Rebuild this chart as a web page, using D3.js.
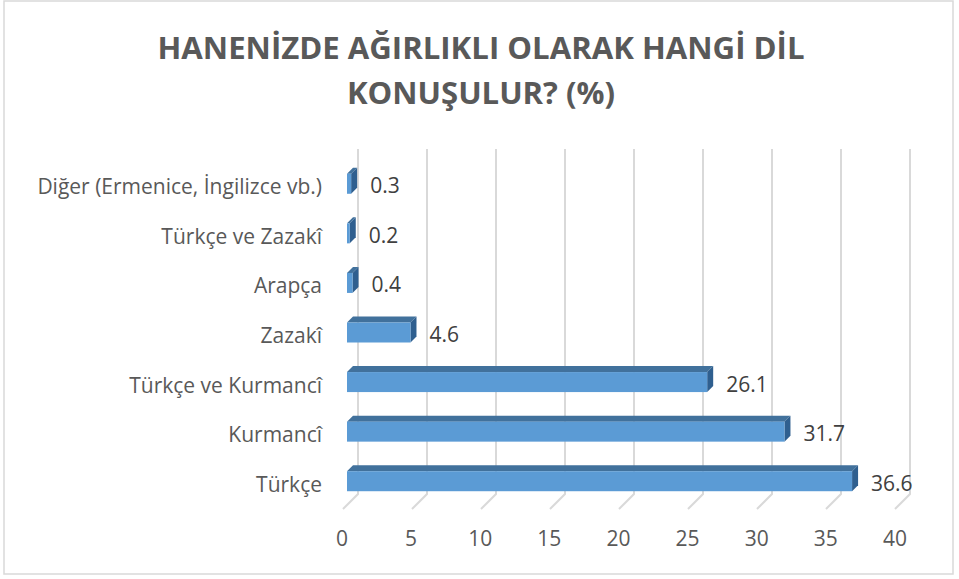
<!DOCTYPE html>
<html><head><meta charset="utf-8">
<script src="https://cdn.jsdelivr.net/npm/d3@7"></script>
<style>html,body{margin:0;padding:0;background:#fff;}svg{display:block;}</style>
</head><body>
<svg id="c" width="959" height="579"></svg>
<script>
const titleLines = ["HANENİZDE AĞIRLIKLI OLARAK HANGİ DİL", "KONUŞULUR? (%)"];
const categories = ["Diğer (Ermenice, İngilizce vb.)", "Türkçe ve Zazakî", "Arapça", "Zazakî", "Türkçe ve Kurmancî", "Kurmancî", "Türkçe"];
const values = [0.3, 0.2, 0.4, 4.6, 26.1, 31.7, 36.6];
const ticks = [0, 5, 10, 15, 20, 25, 30, 35, 40];

const svg = d3.select("#c");
const font = "'Open Sans', Lato, sans-serif";
const textCol = "#595959";

svg.append("rect").attr("x", 4).attr("y", 1).attr("width", 949).attr("height", 573)
  .attr("fill", "#fff").attr("stroke", "#d9d9d9").attr("stroke-width", 1.5);

// title
const titleY = [59, 104];
const titleW = [647, 268];
titleLines.forEach((t, i) => {
  svg.append("text").attr("x", 481).attr("y", titleY[i]).attr("text-anchor", "middle")
    .attr("font-family", font).attr("font-weight", "bold").attr("font-size", 31)
    .attr("fill", textCol).attr("textLength", titleW[i]).attr("lengthAdjust", "spacingAndGlyphs")
    .text(t);
});

const xBack = d3.scaleLinear().domain([0, 40]).range([358, 910]);
const xBar = d3.scaleLinear().domain([0, 40]).range([347, 899]);
const xFront = d3.scaleLinear().domain([0, 40]).range([342, 895]);
const y = d3.scalePoint().domain(categories).range([158, 505]).padding(0.5);

const wallTop = 149, wallBot = 494, floorDx = -15, floorDy = 15;

// gridlines (back wall + floor)
const g = svg.append("g");
ticks.forEach(t => {
  const xb = xBack(t);
  g.append("path")
    .attr("d", `M${xb},${wallTop} L${xb},${wallBot} L${xb + floorDx},${wallBot + floorDy}`)
    .attr("fill", "none").attr("stroke", "#d9d9d9").attr("stroke-width", 2);
});

// tick labels
svg.append("g").selectAll("text").data(ticks).join("text")
  .attr("x", d => xFront(d)).attr("y", 546).attr("text-anchor", "middle")
  .attr("font-family", font).attr("font-size", 21).attr("fill", textCol)
  .text(d => d);

// bars (3D)
const bh = 20, dep = 6;
const data = categories.map((c, i) => ({ c, v: values[i] }));
const bars = svg.append("g").selectAll("g").data(data).join("g");
bars.each(function(d) {
  const s = d3.select(this);
  const x0 = xBar(0), x1 = xBar(d.v), yc = y(d.c) + 1;
  const yt = yc - bh / 2, yb = yc + bh / 2;
  s.append("path").attr("d", `M${x0},${yt} L${x0 + dep},${yt - dep} L${x1 + dep},${yt - dep} L${x1},${yt} Z`)
    .attr("fill", "#41719c");
  s.append("path").attr("d", `M${x1},${yt} L${x1 + dep},${yt - dep} L${x1 + dep},${yb - dep} L${x1},${yb} Z`)
    .attr("fill", "#2f5f8f");
  s.append("rect").attr("x", x0).attr("y", yt).attr("width", Math.max(0, x1 - x0)).attr("height", bh)
    .attr("fill", "#5b9bd5");
});

// value labels
svg.append("g").selectAll("text").data(data).join("text")
  .attr("x", d => xBar(d.v) + dep + 13).attr("y", d => y(d.c) + 3).attr("dy", "0.36em")
  .attr("font-family", font).attr("font-size", 21).attr("fill", "#404040")
  .text(d => d.v);

// category labels
svg.append("g").selectAll("text").data(categories).join("text")
  .attr("x", 322).attr("y", d => y(d) + 4).attr("dy", "0.36em").attr("text-anchor", "end")
  .attr("font-family", font).attr("font-size", 21).attr("fill", textCol)
  .text(d => d);
</script>
</body></html>
